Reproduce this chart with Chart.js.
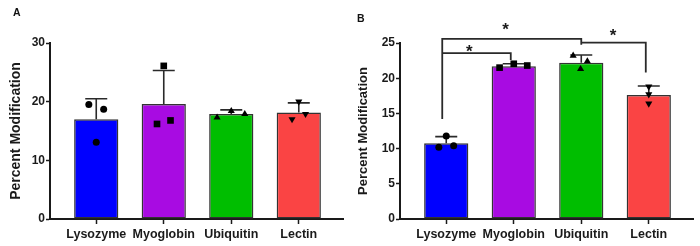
<!DOCTYPE html>
<html>
<head>
<meta charset="utf-8">
<script src="https://cdn.jsdelivr.net/npm/chart.js@4.4.1/dist/chart.umd.min.js"></script>
<style>
  body { margin: 0; background: #fff; }
  .panel { position: absolute; top: 0; width: 350px; height: 246px; }
  .letter { position: absolute; font: bold 10px "Liberation Sans", Arial, sans-serif; color: #111; }
</style>
</head>
<body>
<div class="panel" style="left:0"><canvas id="chartA" width="350" height="246"></canvas></div>
<div class="panel" style="left:350px"><canvas id="chartB" width="350" height="246"></canvas></div>
<div class="letter" style="left:13px;top:6px;font-size:10.5px">A</div>
<div class="letter" style="left:357px;top:12px;font-size:10.5px">B</div>
<script>
// Data
const categories = ['Lysozyme', 'Myoglobin', 'Ubiquitin', 'Lectin'];
const barColors = ['#0000FF', '#A80BE2', '#00BE00', '#FA4444'];
const pointShapes = ['circle', 'rect', 'triangle', 'triangle'];
const pointRotations = [0, 0, 0, 180];

// Panel A
const meansA = [17.0, 19.6, 17.9, 18.15];
const sdA = [3.5, 5.7, 0.7, 1.65];
const repsA = [
  [19.5, 13.1, 18.7],
  [16.2, 26.1, 16.8],
  [17.3, 18.4, 17.9],
  [17.0, 20.0, 17.9]
];

// Panel B
const meansB = [10.75, 21.7, 22.2, 17.6];
const sdB = [0.95, 0.35, 1.1, 1.3];
const repsB = [
  [10.2, 11.8, 10.4],
  [21.5, 22.05, 21.8],
  [23.2, 21.3, 22.4],
  [18.8, 17.7, 16.4]
];

// significance brackets in panel B: [from, to, level, left drop to, right drop to]
const bracketsB = [
  [0, 2, 25.6, 14.2, 24.75],
  [2, 3, 25.05, null, 20.8],
  [0, 1, 23.55, null, 22.6]
];
// stars: [category position, value]
const starsB = [[0.88, 27.6], [2.47, 26.7], [0.34, 24.5]];

// horizontal jitter of the replicate dots, per group
const jitterA = [[-0.11, 0, 0.11], [-0.1, 0, 0.1], [-0.21, 0, 0.2], [-0.1, 0, 0.1]];
const jitterB = [[-0.11, 0, 0.11], [-0.21, 0, 0.2], [-0.12, -0.01, 0.09], [0, 0, 0]];

const FONT = '"Liberation Sans", Arial, sans-serif';
const INK = '#1a1a1a';

Chart.defaults.font.family = FONT;
Chart.defaults.color = INK;

const errorBars = {
  id: 'errorBars',
  afterDatasetDraw(chart, args) {
    if (args.index !== 0) return;
    const ds = chart.data.datasets[0];
    const y = chart.scales.y;
    const ctx = chart.ctx;
    ctx.save();
    ctx.strokeStyle = '#2a2a2a';
    ctx.lineWidth = 1.6;
    args.meta.data.forEach((bar, i) => {
      const top = y.getPixelForValue(ds.means[i] + ds.sd[i]);
      ctx.beginPath();
      ctx.moveTo(bar.x, bar.y);
      ctx.lineTo(bar.x, top);
      ctx.moveTo(bar.x - 11, top);
      ctx.lineTo(bar.x + 11, top);
      ctx.stroke();
    });
    ctx.restore();
  }
};

const sigBrackets = {
  id: 'sigBrackets',
  afterDraw(chart, args, opts) {
    if (!opts.brackets) return;
    const {ctx, scales: {x, y}} = chart;
    ctx.save();
    ctx.strokeStyle = '#2a2a2a';
    ctx.lineWidth = 1.8;
    opts.brackets.forEach(b => {
      const x1 = x.getPixelForValue(b[0]) - (b[0] === 0 ? 4 : 0);
      const x2 = x.getPixelForValue(b[1]) - (b[1] === 2 ? 0 : 3);
      const yl = y.getPixelForValue(b[2]);
      ctx.beginPath();
      if (b[3] !== null) {
        ctx.moveTo(x1, y.getPixelForValue(b[3]));
        ctx.lineTo(x1, yl);
      } else {
        ctx.moveTo(x1, yl);
      }
      ctx.lineTo(x2, yl);
      ctx.lineTo(x2, y.getPixelForValue(b[4]));
      ctx.stroke();
    });
    ctx.fillStyle = INK;
    ctx.font = 'bold 17px ' + FONT;
    ctx.textAlign = 'center';
    ctx.textBaseline = 'alphabetic';
    opts.stars.forEach(s => {
      ctx.fillText('*', x.getPixelForValue(s[0]), y.getPixelForValue(s[1]) + 0.6 * 17);
    });
    ctx.restore();
  }
};

function makeChart(id, means, sd, reps, jitter, yMax, yStep, titleSize, titlePad, extra) {
  const dots = [];
  reps.forEach((group, i) => {
    dots.push({
      type: 'scatter',
      data: group.map((v, k) => ({x: i + jitter[i][k], y: v})),
      pointStyle: pointShapes[i],
      rotation: pointRotations[i],
      radius: pointShapes[i] === 'rect' ? 4.7 : (pointShapes[i] === 'circle' ? 3.5 : 4.1),
      backgroundColor: '#000',
      borderColor: '#000',
      borderWidth: 0,
      order: 0
    });
  });
  return new Chart(document.getElementById(id), {
    type: 'bar',
    data: {
      datasets: [{
        data: means.map((v, i) => ({x: i, y: v})),
        means: means,
        sd: sd,
        backgroundColor: barColors,
        borderColor: '#333',
        borderWidth: 1.5,
        borderSkipped: false,
        categoryPercentage: 1,
        barPercentage: 0.655,
        order: 1
      }].concat(dots)
    },
    options: {
      responsive: false,
      animation: false,
      events: [],
      layout: {padding: {left: 0, right: 7, top: 43, bottom: 0}},
      plugins: {
        legend: {display: false},
        tooltip: {enabled: false},
        sigBrackets: extra || {}
      },
      scales: {
        x: {
          type: 'linear',
          offset: false,
          min: -0.685,
          max: 3.655,
          afterBuildTicks: s => { s.ticks = [0, 1, 2, 3].map(v => ({value: v})); },
          afterFit: s => { s.height = 27; },
          ticks: {
            callback: v => categories[v],
            font: {size: 12.5, weight: 'bold'},
            color: INK,
            padding: 3,
            maxRotation: 0
          },
          grid: {drawOnChartArea: false, offset: false, tickLength: 5, tickColor: INK, tickWidth: 1.5},
          border: {color: INK, width: 2}
        },
        y: {
          min: 0,
          max: yMax,
          afterFit: s => { s.width = 50; },
          ticks: {
            stepSize: yStep,
            font: {size: 12, weight: 'bold'},
            color: INK,
            padding: 1
          },
          grid: {drawOnChartArea: false, tickLength: 4, tickColor: INK, tickWidth: 1.5},
          border: {color: INK, width: 2},
          title: {
            display: true,
            text: 'Percent Modification',
            font: {size: titleSize, weight: 'bold'},
            color: INK,
            padding: {top: titlePad, bottom: 0}
          }
        }
      }
    },
    plugins: [errorBars, sigBrackets]
  });
}

makeChart('chartA', meansA, sdA, repsA, jitterA, 30, 10, 14, 8);
makeChart('chartB', meansB, sdB, repsB, jitterB, 25, 5, 13, 6,
  {brackets: bracketsB, stars: starsB});
</script>
</body>
</html>
